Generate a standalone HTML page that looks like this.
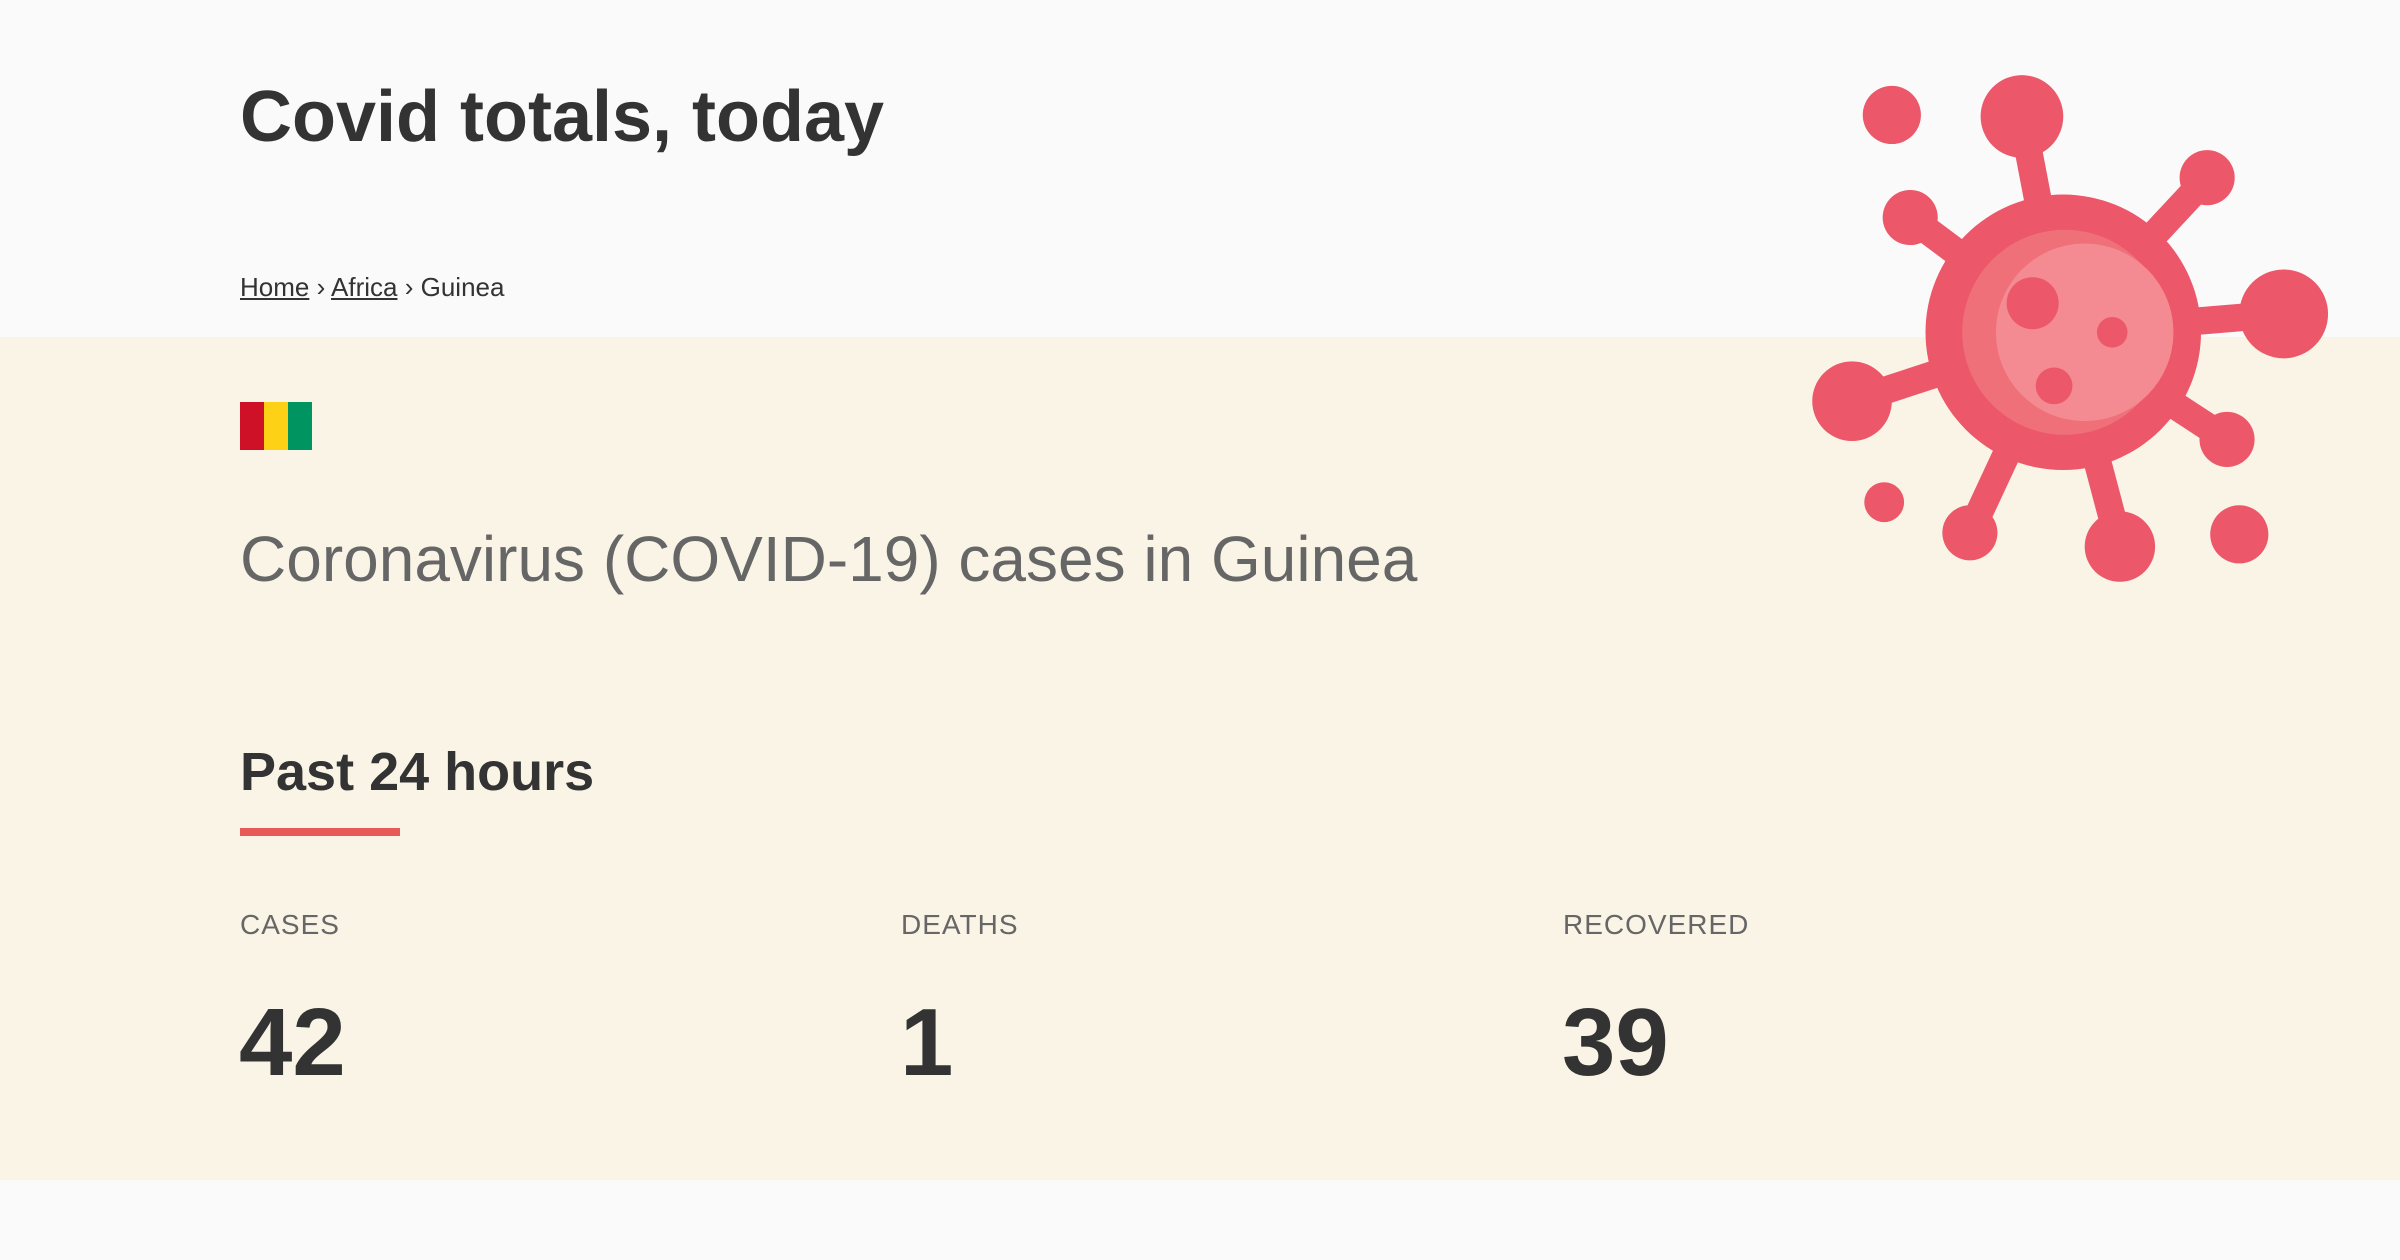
<!DOCTYPE html>
<html><head><meta charset="utf-8"><style>
body{margin:0;width:2400px;height:1260px;background:#fafafa;font-family:"Liberation Sans",sans-serif;position:relative;overflow:hidden;color:#333}
.band{position:absolute;left:0;top:337px;width:2400px;height:843px;background:#f9f4e6}
.abs{position:absolute;white-space:nowrap}
a{color:#333}
</style></head><body>
<div class="band"></div>
<div class="abs" style="left:240px;top:76px;font-size:72px;font-weight:bold;">Covid totals, today</div>
<div class="abs" style="left:240px;top:272px;font-size:26px;"><a href="#">Home</a> › <a href="#">Africa</a> › Guinea</div>
<div class="abs" style="left:240px;top:402px;width:72px;height:48px;display:flex"><div style="flex:1;background:#ce1126"></div><div style="flex:1;background:#fcd116"></div><div style="flex:1;background:#009460"></div></div>
<div class="abs" style="left:240px;top:522px;font-size:64px;color:#666;">Coronavirus (COVID-19) cases in Guinea</div>
<div class="abs" style="left:240px;top:741px;font-size:54px;font-weight:bold;">Past 24 hours</div>
<div class="abs" style="left:240px;top:828px;width:160px;height:8px;background:#e85a5a"></div>
<div class="abs" style="left:240px;top:909px;font-size:28px;color:#666;letter-spacing:1px">CASES</div>
<div class="abs" style="left:901px;top:909px;font-size:28px;color:#666;letter-spacing:1px">DEATHS</div>
<div class="abs" style="left:1563px;top:909px;font-size:28px;color:#666;letter-spacing:1px">RECOVERED</div>
<div class="abs" style="left:239px;top:988px;font-size:96px;font-weight:bold;">42</div>
<div class="abs" style="left:900px;top:988px;font-size:96px;font-weight:bold;">1</div>
<div class="abs" style="left:1562px;top:988px;font-size:96px;font-weight:bold;">39</div>
<svg style="position:absolute;left:0;top:0" width="2400" height="1260" viewBox="0 0 1568 823">
<g fill="#ec5769" stroke="#ec5769" stroke-width="18" stroke-linecap="round">
<line x1="1348" y1="217" x2="1321" y2="76"/><line x1="1348" y1="217" x2="1442" y2="116"/>
<line x1="1348" y1="217" x2="1492" y2="205"/><line x1="1348" y1="217" x2="1455" y2="287"/>
<line x1="1348" y1="217" x2="1385" y2="357"/><line x1="1348" y1="217" x2="1287" y2="348"/>
<line x1="1348" y1="217" x2="1210" y2="262"/><line x1="1348" y1="217" x2="1248" y2="142"/>
</g>
<g fill="#ec5769">
<circle cx="1348" cy="217" r="90"/>
<circle cx="1321" cy="76" r="27"/><circle cx="1442" cy="116" r="18"/><circle cx="1492" cy="205" r="29"/>
<circle cx="1455" cy="287" r="18"/><circle cx="1385" cy="357" r="23"/><circle cx="1287" cy="348" r="18"/>
<circle cx="1210" cy="262" r="26"/><circle cx="1248" cy="142" r="18"/>
<circle cx="1236" cy="75" r="19"/><circle cx="1231" cy="328" r="13"/><circle cx="1463" cy="349" r="19"/>
</g>
<circle cx="1349" cy="217" r="67" fill="#ef7078"/>
<circle cx="1362" cy="217" r="58" fill="#f48b92"/>
<circle cx="1328" cy="198" r="17" fill="#ec5769"/><circle cx="1380" cy="217" r="10" fill="#ec5769"/><circle cx="1342" cy="252" r="12" fill="#ec5769"/>
</svg>
</body></html>
